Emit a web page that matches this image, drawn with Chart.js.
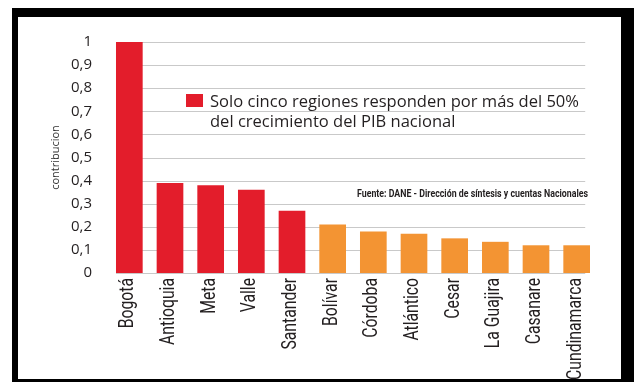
<!DOCTYPE html>
<html>
<head>
<meta charset="utf-8">
<script src="https://cdn.jsdelivr.net/npm/chart.js@4"></script>
<style>
  html, body { margin: 0; padding: 0; background: #fff; }
  #wrap { position: relative; width: 634px; height: 382px; overflow: hidden; background: #fff; }
  #chart { position: absolute; left: 0; top: 0; }
  #frame {
    position: absolute; left: 12px; top: 8px; width: 603px; height: 362px;
    border-style: solid; border-color: #000; border-width: 9px 13px 3px 6px;
    pointer-events: none;
  }
</style>
</head>
<body>
<div id="wrap">
  <canvas id="chart" width="634" height="382"></canvas>
  <div id="frame"></div>
</div>
<script>
// Regional contribution to national GDP growth
const regions = ['Bogotá', 'Antioquia', 'Meta', 'Valle', 'Santander', 'Bolívar', 'Córdoba', 'Atlántico', 'Cesar', 'La Guajira', 'Casanare', 'Cundinamarca'];
const contribution = [1, 0.39, 0.38, 0.36, 0.27, 0.21, 0.18, 0.17, 0.15, 0.135, 0.12, 0.12];
const yTickLabels = ['0', '0,1', '0,2', '0,3', '0,4', '0,5', '0,6', '0,7', '0,8', '0,9', '1'];
const legendLines = ['Solo cinco regiones responden por más del 50%', 'del crecimiento del PIB nacional'];
const sourceNote = 'Fuente: DANE - Dirección de síntesis y cuentas Nacionales';
const axisTitle = 'contribucion';
const leadingCount = 5;

const RED = '#e31d2b';
const ORANGE = '#f39433';
const TEXT = '#231f20';

// Horizontal guide lines, spanning from the first bar to just past the last bar's centre
const guideLines = {
  id: 'guideLines',
  beforeDatasetsDraw(chart) {
    const { ctx } = chart;
    const y = chart.scales.y;
    const bars = chart.getDatasetMeta(0).data;
    const first = bars[0], last = bars[bars.length - 1];
    const x0 = first.x - first.width / 2;
    const x1 = last.x + last.width * 0.32;
    ctx.save();
    ctx.strokeStyle = '#c9c9c9';
    ctx.lineWidth = 1;
    y.ticks.forEach(t => {
      const py = Math.round(y.getPixelForValue(t.value)) + 0.5;
      ctx.beginPath();
      ctx.moveTo(x0, py);
      ctx.lineTo(x1, py);
      ctx.stroke();
    });
    ctx.restore();
  }
};

// Condensed, vertical region names under each bar
const regionLabels = {
  id: 'regionLabels',
  afterDraw(chart) {
    const { ctx } = chart;
    const x = chart.scales.x;
    const top = chart.chartArea.bottom + 5;
    ctx.save();
    ctx.font = '20px Roboto, sans-serif';
    ctx.fillStyle = TEXT;
    ctx.textAlign = 'right';
    ctx.textBaseline = 'middle';
    const longest = Math.max(...regions.map(r => ctx.measureText(r).width));
    const squeeze = Math.min(1, 102 / longest);
    regions.forEach((name, i) => {
      ctx.save();
      ctx.translate(x.getPixelForValue(i) - 1, top);
      ctx.rotate(-Math.PI / 2);
      ctx.scale(squeeze, 1);
      ctx.fillText(name, 0, 0);
      ctx.restore();
    });
    ctx.restore();
  }
};

// Caption with red key and the data source note
const captions = {
  id: 'captions',
  afterDraw(chart) {
    const { ctx } = chart;
    ctx.save();
    ctx.fillStyle = RED;
    ctx.fillRect(186, 94, 17, 13);

    ctx.fillStyle = TEXT;
    ctx.textBaseline = 'alphabetic';
    ctx.textAlign = 'left';
    ctx.font = '17px "Open Sans", sans-serif';
    const w = ctx.measureText(legendLines[0]).width;
    const squeeze = Math.min(1, 369 / w);
    ctx.save();
    ctx.translate(210, 0);
    ctx.scale(squeeze, 1);
    ctx.fillText(legendLines[0], 0, 106.5);
    ctx.fillText(legendLines[1], 0, 126.5);
    ctx.restore();

    ctx.font = 'bold 11px Roboto, sans-serif';
    ctx.fillText(sourceNote, 357, 197, 231);
    ctx.restore();
  }
};

new Chart(document.getElementById('chart'), {
  type: 'bar',
  data: {
    labels: regions,
    datasets: [{
      data: contribution,
      backgroundColor: c => (c.dataIndex < leadingCount ? RED : ORANGE),
      borderWidth: 0,
      barPercentage: 0.656,
      categoryPercentage: 1
    }]
  },
  options: {
    responsive: false,
    animation: false,
    devicePixelRatio: 1,
    layout: { padding: { top: 42, right: 37, left: 0, bottom: 0 } },
    plugins: { legend: { display: false }, tooltip: { enabled: false } },
    scales: {
      x: {
        offset: true,
        grid: { display: false, drawTicks: false },
        border: { display: false },
        ticks: { display: false, autoSkip: false },
        afterFit: s => { s.height = 109; }
      },
      y: {
        min: 0,
        max: 1,
        grid: { display: false, drawTicks: false },
        border: { display: false },
        ticks: {
          stepSize: 0.1,
          padding: 17,
          color: TEXT,
          font: { family: '"Open Sans", sans-serif', size: 15 },
          callback: (v, i) => yTickLabels[i]
        },
        title: {
          display: true,
          text: axisTitle,
          color: '#333',
          font: { family: '"Open Sans", sans-serif', size: 11 },
          padding: { top: 49, bottom: 0 }
        },
        afterFit: s => { s.width = 109; }
      }
    }
  },
  plugins: [guideLines, regionLabels, captions]
});
</script>
</body>
</html>
